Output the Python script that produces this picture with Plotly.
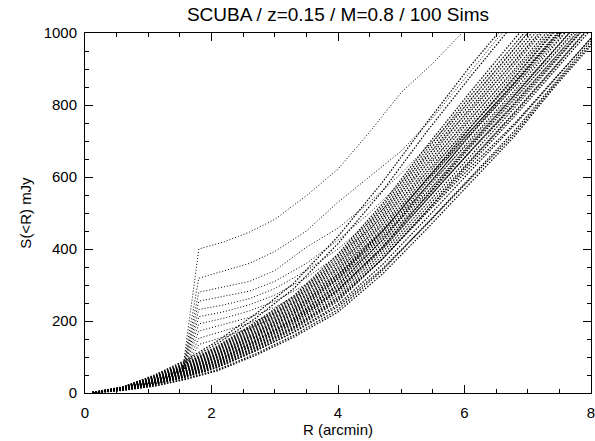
import plotly.graph_objects as go

# ---- data ----
R_band = [0.12, 0.6, 1.1, 1.6, 2.1, 2.7, 3.3, 4.0, 4.7, 5.4, 6.1, 6.8, 7.4, 8.0]
R_out = [0.12, 0.6, 1.1, 1.55, 1.8, 2.2, 2.6, 3.0, 3.5, 4.0, 4.5, 5.0, 5.5, 6.0, 6.5, 7.0, 7.5, 8.0]

band_01 = [1, 7, 19, 38, 62, 105, 155, 225, 330, 455, 585, 715, 845, 965]
band_02 = [0, 8, 20, 40, 65, 109, 160, 232, 340, 470, 600, 730, 855, 978]
band_03 = [1, 9, 24, 46, 72, 118, 168, 240, 345, 468, 596, 722, 850, 970]
band_04 = [0, 8, 23, 44, 71, 117, 170, 246, 356, 485, 618, 746, 866, 986]
band_05 = [1, 9, 24, 46, 74, 121, 176, 255, 372, 505, 645, 778, 898, 1020]
band_06 = [2, 9, 25, 48, 77, 125, 180, 260, 372, 505, 640, 770, 890, 1010]
band_07 = [1, 9, 26, 49, 79, 127, 182, 263, 372, 500, 628, 750, 868, 985]
band_08 = [1, 9, 26, 50, 80, 129, 185, 267, 381, 515, 651, 782, 902, 1022]
band_09 = [2, 10, 27, 52, 83, 133, 190, 274, 390, 525, 662, 794, 914, 1034]
band_10 = [0, 10, 28, 53, 85, 136, 195, 285, 405, 548, 690, 828, 948, 1068]
band_11 = [1, 10, 29, 54, 86, 137, 195, 281, 398, 535, 673, 806, 926, 1046]
band_12 = [2, 11, 30, 56, 89, 141, 200, 288, 406, 545, 684, 818, 938, 1058]
band_13 = [1, 11, 30, 57, 90, 145, 207, 300, 425, 572, 720, 862, 984, 1106]
band_14 = [1, 11, 31, 58, 92, 145, 205, 295, 415, 555, 695, 830, 950, 1070]
band_15 = [1, 11, 32, 59, 92, 144, 202, 288, 402, 538, 672, 802, 920, 1036]
band_16 = [2, 11, 32, 60, 95, 149, 210, 302, 424, 565, 706, 842, 962, 1082]
band_17 = [1, 12, 33, 62, 98, 153, 215, 309, 432, 575, 717, 854, 974, 1094]
band_18 = [1, 12, 34, 63, 100, 157, 221, 318, 447, 595, 740, 880, 1002, 1125]
band_19 = [2, 12, 35, 64, 101, 157, 220, 316, 440, 585, 728, 866, 986, 1106]
band_20 = [1, 13, 36, 66, 104, 161, 225, 323, 449, 595, 739, 878, 998, 1118]
band_21 = [2, 13, 37, 68, 107, 165, 230, 330, 457, 605, 750, 890, 1010, 1130]
band_22 = [1, 13, 38, 69, 108, 166, 230, 328, 450, 592, 730, 862, 980, 1098]
band_23 = [2, 13, 38, 70, 110, 169, 235, 337, 466, 615, 761, 902, 1022, 1142]
band_24 = [1, 14, 39, 72, 113, 173, 240, 344, 475, 625, 772, 914, 1034, 1154]
band_25 = [2, 14, 41, 74, 116, 177, 245, 351, 483, 635, 783, 926, 1046, 1166]
band_26 = [1, 15, 42, 76, 119, 181, 250, 358, 492, 645, 794, 938, 1058, 1178]
band_27 = [2, 15, 43, 78, 122, 185, 255, 365, 500, 655, 805, 950, 1070, 1190]
band_28 = [1, 15, 44, 80, 125, 189, 260, 372, 508, 665, 816, 962, 1082, 1202]
band_29 = [2, 16, 45, 82, 128, 193, 265, 379, 517, 675, 827, 974, 1094, 1214]
band_30 = [1, 16, 47, 84, 131, 197, 270, 386, 525, 685, 838, 986, 1106, 1226]
band_31 = [1, 17, 48, 88, 138, 208, 290, 415, 560, 725, 880, 1030, 1150, 1270]
band_32 = [2, 17, 50, 92, 145, 220, 305, 435, 585, 750, 910, 1060, 1180, 1300]

out_01 = [1, 12, 33, 72, 400, 420, 447, 482, 548, 622, 725, 835, 916, 1010, 1100, 1190, 1280, 1370]
out_02 = [1, 11, 32, 70, 319, 340, 360, 393, 450, 530, 600, 672, 765, 872, 980, 1080, 1180, 1280]
out_03 = [1, 11, 31, 68, 280, 295, 310, 340, 405, 458, 530, 610, 700, 795, 895, 1000, 1100, 1200]
out_04 = [2, 12, 32, 66, 255, 268, 283, 310, 360, 425, 500, 585, 675, 770, 865, 960, 1060, 1160]
out_05 = [1, 10, 30, 65, 232, 245, 262, 290, 340, 400, 475, 560, 650, 745, 840, 935, 1035, 1135]
out_06 = [1, 11, 31, 64, 212, 226, 245, 272, 320, 382, 455, 540, 630, 722, 815, 910, 1008, 1105]
out_07 = [2, 11, 30, 63, 192, 208, 228, 255, 302, 362, 435, 518, 608, 700, 795, 890, 985, 1082]
out_08 = [1, 10, 29, 62, 172, 190, 210, 238, 285, 345, 418, 500, 590, 682, 778, 872, 968, 1065]
out_09 = [1, 11, 30, 60, 152, 172, 194, 222, 270, 330, 402, 485, 575, 668, 765, 860, 955, 1052]
out_10 = [2, 11, 30, 60, 135, 156, 180, 210, 258, 318, 390, 472, 562, 655, 752, 848, 945, 1042]

band_sims = [band_01, band_02, band_03, band_04, band_05, band_06, band_07, band_08,
             band_09, band_10, band_11, band_12, band_13, band_14, band_15, band_16,
             band_17, band_18, band_19, band_20, band_21, band_22, band_23, band_24,
             band_25, band_26, band_27, band_28, band_29, band_30, band_31, band_32]
out_sims = [out_01, out_02, out_03, out_04, out_05, out_06, out_07, out_08, out_09, out_10]

x_ticks = [0, 2, 4, 6, 8]
y_ticks = [0, 200, 400, 600, 800, 1000]

FONT = "Liberation Sans"

fig = go.Figure()
band_style = dict(color="black", width=1.2, dash="1.5px,1.5px")
out_style = dict(color="black", width=1, dash="1px,2px")
for s in band_sims:
    fig.add_trace(go.Scatter(x=R_band, y=s, mode="lines", line=band_style,
                             showlegend=False, hoverinfo="skip"))
for s in out_sims:
    fig.add_trace(go.Scatter(x=R_out, y=s, mode="lines", line=out_style,
                             showlegend=False, hoverinfo="skip"))

axis_common = dict(
    showgrid=False, zeroline=False, showline=True, linecolor="black", linewidth=1,
    mirror="ticks", ticks="inside", ticklen=8, tickwidth=1, tickcolor="black",
    automargin=False, ticklabeloverflow="allow",
    tickfont=dict(family=FONT, size=15, color="black"),
)

fig.update_layout(
    width=595, height=441,
    margin=dict(l=85, r=4, t=33, b=48, autoexpand=False),
    paper_bgcolor="white", plot_bgcolor="white",
    title=dict(text="SCUBA / z=0.15 / M=0.8 / 100 Sims", x=0.568, xanchor="center",
               y=0.968, yanchor="middle", automargin=False,
               font=dict(family=FONT, size=19, color="black")),
    xaxis=dict(range=[0, 8], tickvals=x_ticks, ticktext=[str(v) for v in x_ticks],
               minor=dict(dtick=0.5, ticklen=4, ticks="inside", tickcolor="black"),
               ticklabelstandoff=6,
               title=dict(text="R (arcmin)", font=dict(family=FONT, size=15, color="black"),
                          standoff=1),
               **axis_common),
    yaxis=dict(range=[0, 1000], tickvals=y_ticks, ticktext=[str(v) for v in y_ticks],
               minor=dict(dtick=50, ticklen=4, ticks="inside", tickcolor="black"),
               ticklabelstandoff=4,
               title=dict(text="S(<R) mJy", font=dict(family=FONT, size=15, color="black"),
                          standoff=8),
               **axis_common),
)

fig.write_html("out.html", config={"displayModeBar": False},
               post_script="document.body.style.margin='0';document.body.style.padding='0';")
